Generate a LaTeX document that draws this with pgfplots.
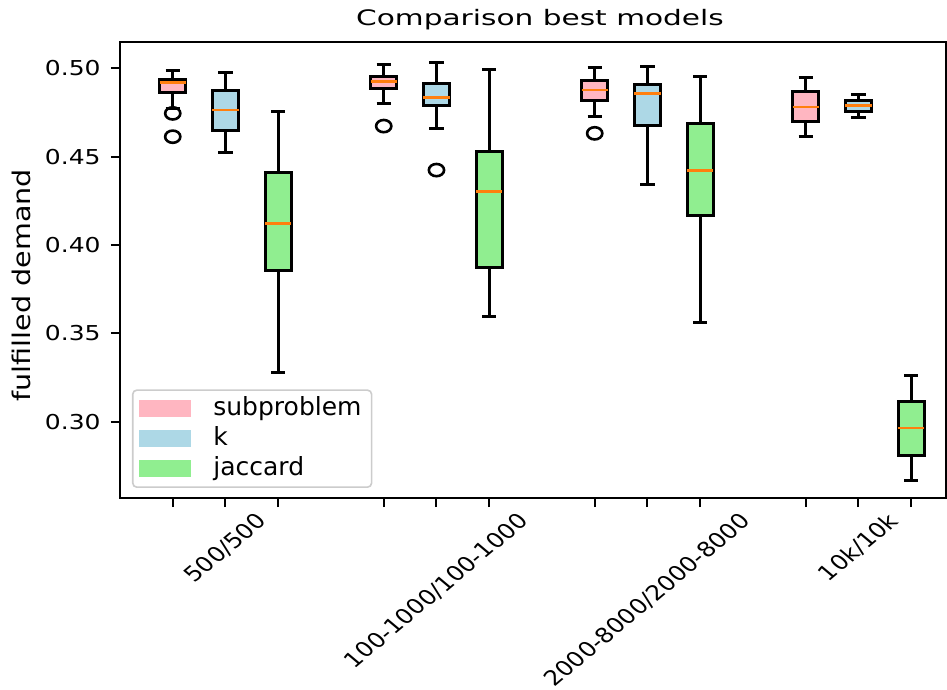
\documentclass[border=0pt]{standalone}
\usepackage{fontspec}
\setmainfont{DejaVu Sans}
\usepackage{graphicx}
\usepackage{pgfplots}
\pgfplotsset{compat=1.18}
\definecolor{pinkc}{HTML}{FFB6C1}
\definecolor{bluec}{HTML}{ADD8E6}
\definecolor{greenc}{HTML}{90EE90}
\definecolor{medorange}{HTML}{FF7F0E}
\definecolor{legframe}{HTML}{CCCCCC}
\newcommand{\xlab}[1]{\scalebox{1}[0.84]{\rotatebox{45}{#1}}}
% #1 position, #2 colour, #3 lower whisker, #4 lower quartile, #5 median, #6 upper quartile, #7 upper whisker
\newcommand{\bbox}[7]{%
  \pgfmathsetmacro{\bL}{#1-0.25}\pgfmathsetmacro{\bR}{#1+0.25}%
  \pgfmathsetmacro{\cL}{#1-0.135}\pgfmathsetmacro{\cR}{#1+0.135}%
  \addplot[black, line width=1.5pt] coordinates {(#1,#3) (#1,#4)};
  \addplot[black, line width=1.5pt] coordinates {(#1,#6) (#1,#7)};
  \addplot[black, line width=1.5pt] coordinates {(\cL,#3) (\cR,#3)};
  \addplot[black, line width=1.5pt] coordinates {(\cL,#7) (\cR,#7)};
  \addplot[fill=#2, draw=black, line width=1.5pt] coordinates {(\bL,#4) (\bR,#4) (\bR,#6) (\bL,#6)} -- cycle;
  \addplot[medorange, line width=1.4pt] coordinates {(\bL,#5) (\bR,#5)};
}
\begin{document}
\begin{tikzpicture}
\begin{axis}[
  at={(0,0)}, anchor=south west,
  scale only axis, width=413pt, height=228pt,
  xmin=0, xmax=15.66, ymin=0.2568, ymax=0.5149,
  axis line style={line width=1.1pt},
  tick style={line width=1pt, black},
  tick align=outside, major tick length=4.5pt,
  xtick={1,2,3,5,6,7,9,10,11,13,14,15},
  xticklabels={{},\xlab{500/500},{},{},\xlab{100-1000/100-1000},{},{},\xlab{2000-8000/2000-8000},{},{},\xlab{10k/10k},{}},
  xticklabel style={anchor=north, inner sep=0pt, yshift=-2pt, font=\fontsize{12.4}{14}\selectfont},
  ytick={0.30,0.35,0.40,0.45,0.50},
  yticklabel style={/pgf/number format/fixed, /pgf/number format/fixed zerofill, /pgf/number format/precision=2, /pgf/number format/assume math mode=true, anchor=east, inner sep=0pt, xshift=-5pt, font=\fontsize{12.5}{14}\selectfont, yscale=0.82},
  xtick pos=bottom, ytick pos=left,
  title={\scalebox{1}[0.72]{Comparison best models}},
  title style={at={(axis description cs:0.5085,1)}, anchor=base, yshift=2pt, font=\fontsize{14.8}{16}\selectfont},
  ylabel={\scalebox{1}[0.85]{fulfilled demand}},
  ylabel style={at={(axis description cs:-0.1199,0.467)}, anchor=center, font=\fontsize{14.3}{16}\selectfont},
  legend cell align=left,
  legend style={at={(axis description cs:0.0145,0.022)}, anchor=south west, draw=legframe, rounded corners=2pt, line width=0.8pt, fill=white, font=\fontsize{12.5}{15}\selectfont, inner xsep=3pt, inner ysep=3pt, row sep=2.5pt, column sep=9pt, nodes={inner xsep=2pt, inner ysep=0pt, text height=9.5pt, text depth=3pt}},
]
\addlegendimage{legend image code/.code={\fill[pinkc, sharp corners] (0pt,-3.75pt) rectangle (25.5pt,3.75pt);}}
\addlegendentry{subproblem}
\addlegendimage{legend image code/.code={\fill[bluec, sharp corners] (0pt,-3.75pt) rectangle (25.5pt,3.75pt);}}
\addlegendentry{k}
\addlegendimage{legend image code/.code={\fill[greenc, sharp corners] (0pt,-3.75pt) rectangle (25.5pt,3.75pt);}}
\addlegendentry{jaccard}

% group 1: 500/500
\bbox{1}{pinkc}{0.4775}{0.4864}{0.4918}{0.4938}{0.4990}
\bbox{2}{bluec}{0.4524}{0.4647}{0.4764}{0.4877}{0.4977}
\bbox{3}{greenc}{0.3279}{0.3854}{0.4120}{0.4409}{0.4758}
% group 2: 100-1000/100-1000
\bbox{5}{pinkc}{0.4802}{0.4885}{0.4926}{0.4956}{0.5019}
\bbox{6}{bluec}{0.4660}{0.4787}{0.4836}{0.4915}{0.5034}
\bbox{7}{greenc}{0.3597}{0.3873}{0.4301}{0.4528}{0.4994}
% group 3: 2000-8000/2000-8000
\bbox{9}{pinkc}{0.4730}{0.4820}{0.4877}{0.4930}{0.5006}
\bbox{10}{bluec}{0.4345}{0.4677}{0.4858}{0.4909}{0.5013}
\bbox{11}{greenc}{0.3560}{0.4168}{0.4420}{0.4689}{0.4952}
% group 4: 10k/10k
\bbox{13}{pinkc}{0.4615}{0.4699}{0.4781}{0.4866}{0.4947}
\bbox{14}{bluec}{0.4723}{0.4755}{0.4788}{0.4818}{0.4852}
\bbox{15}{greenc}{0.2667}{0.2811}{0.2964}{0.3114}{0.3264}
% outliers
\addplot[only marks, mark=o, mark size=3.4pt, mark options={draw=black, line width=1.3pt, xscale=1.12, yscale=0.9}] coordinates {(1,0.4745) (1,0.4613) (5,0.4673) (6,0.4424) (9,0.4632)};
\end{axis}
\pgfresetboundingbox
\path[use as bounding box] (-60pt,-96pt) rectangle (413.5pt,249pt);
\end{tikzpicture}
\end{document}
